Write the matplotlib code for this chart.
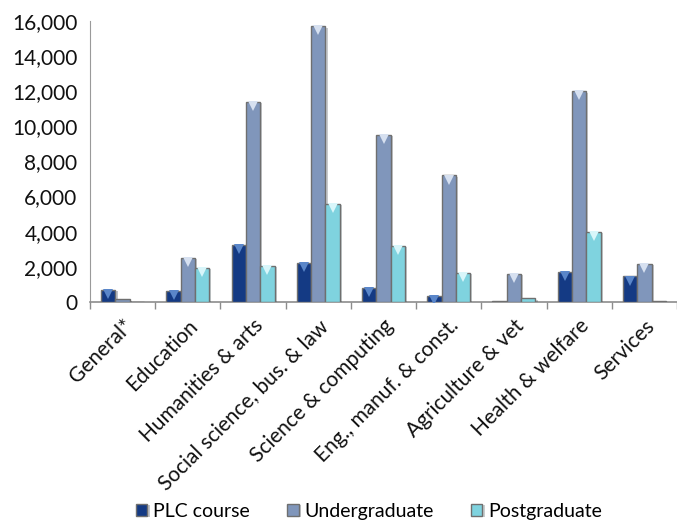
import matplotlib
matplotlib.use("Agg")
import matplotlib.pyplot as plt
import matplotlib.patheffects as pe
from matplotlib.ticker import FuncFormatter, FixedLocator
from matplotlib.transforms import offset_copy
import numpy as np

categories = ["General*", "Education", "Humanities & arts", "Social science, bus. & law",
              "Science & computing", "Eng., manuf. & const.", "Agriculture & vet",
              "Health & welfare", "Services"]
plc_course = [700, 600, 3250, 2200, 800, 350, 50, 1700, 1450]
undergraduate = [150, 2500, 11400, 15700, 9500, 7200, 1600, 12000, 2150]
postgraduate = [0, 1950, 2050, 5600, 3200, 1650, 200, 4000, 50]
series_names = ["PLC course", "Undergraduate", "Postgraduate"]
y_ticks = [0, 2000, 4000, 6000, 8000, 10000, 12000, 14000, 16000]

colors = ["#143a84", "#8096bb", "#7fd3df"]
tip_colors = ["#5a86c9", "#d6e0f0", "#d8f6fa"]

plt.rcParams["font.family"] = ["Lato", "DejaVu Sans"]

fig = plt.figure(figsize=(6.77, 5.24), dpi=100)
ax = fig.add_axes([0.133, 0.424, 0.867, 0.536])

x = np.arange(len(categories))
width = 0.22
series = [plc_course, undergraduate, postgraduate]
for k, (vals, name) in enumerate(zip(series, series_names)):
    pos = x + (k - 1) * width
    bars = ax.bar(pos, vals, width, color=colors[k], edgecolor="#6f6f6f",
                  linewidth=1.0, label=name, zorder=3)
    for b in bars:
        b.set_path_effects([pe.SimplePatchShadow(offset=(1.5, -1.0), alpha=0.25),
                            pe.Normal()])
    # small bevel tip at the top of each bar
    tip_tr = offset_copy(ax.transData, fig=fig, x=0, y=-3.0, units="points")
    mask = np.array(vals) > 300
    ax.plot(pos[mask], np.array(vals)[mask], linestyle="none", marker="v",
            markersize=6.5, color=tip_colors[k], markeredgewidth=0,
            transform=tip_tr, zorder=4)

ax.set_xlim(-0.5, len(categories) - 0.5)
ax.set_ylim(0, 16000)
ax.set_yticks(y_ticks)
ax.yaxis.set_major_formatter(FuncFormatter(lambda v, p: f"{int(v):,}"))
ax.tick_params(axis="y", length=0, labelsize=15, pad=9, colors="#111111")

ax.set_xticks(x)
ax.set_xticklabels(categories, rotation=45, ha="right", rotation_mode="anchor")
ax.tick_params(axis="x", which="major", length=0, labelsize=15, pad=10,
               colors="#111111")
ax.xaxis.set_minor_locator(FixedLocator(np.arange(-0.5, len(categories), 1.0)))
ax.tick_params(axis="x", which="minor", length=5, width=1, color="#8c8c8c",
               direction="out")

for s in ["top", "right"]:
    ax.spines[s].set_visible(False)
ax.spines["left"].set_color("#9a9a9a")
ax.spines["bottom"].set_color("#8c8c8c")
ax.spines["bottom"].set_linewidth(1.2)

fig.legend(loc="lower center", bbox_to_anchor=(0.545, -0.025), ncol=3,
           frameon=False, fontsize=14, handlelength=0.6, handleheight=0.6,
           handletextpad=0.3, columnspacing=1.9)

fig.savefig("out.png", dpi=100)
